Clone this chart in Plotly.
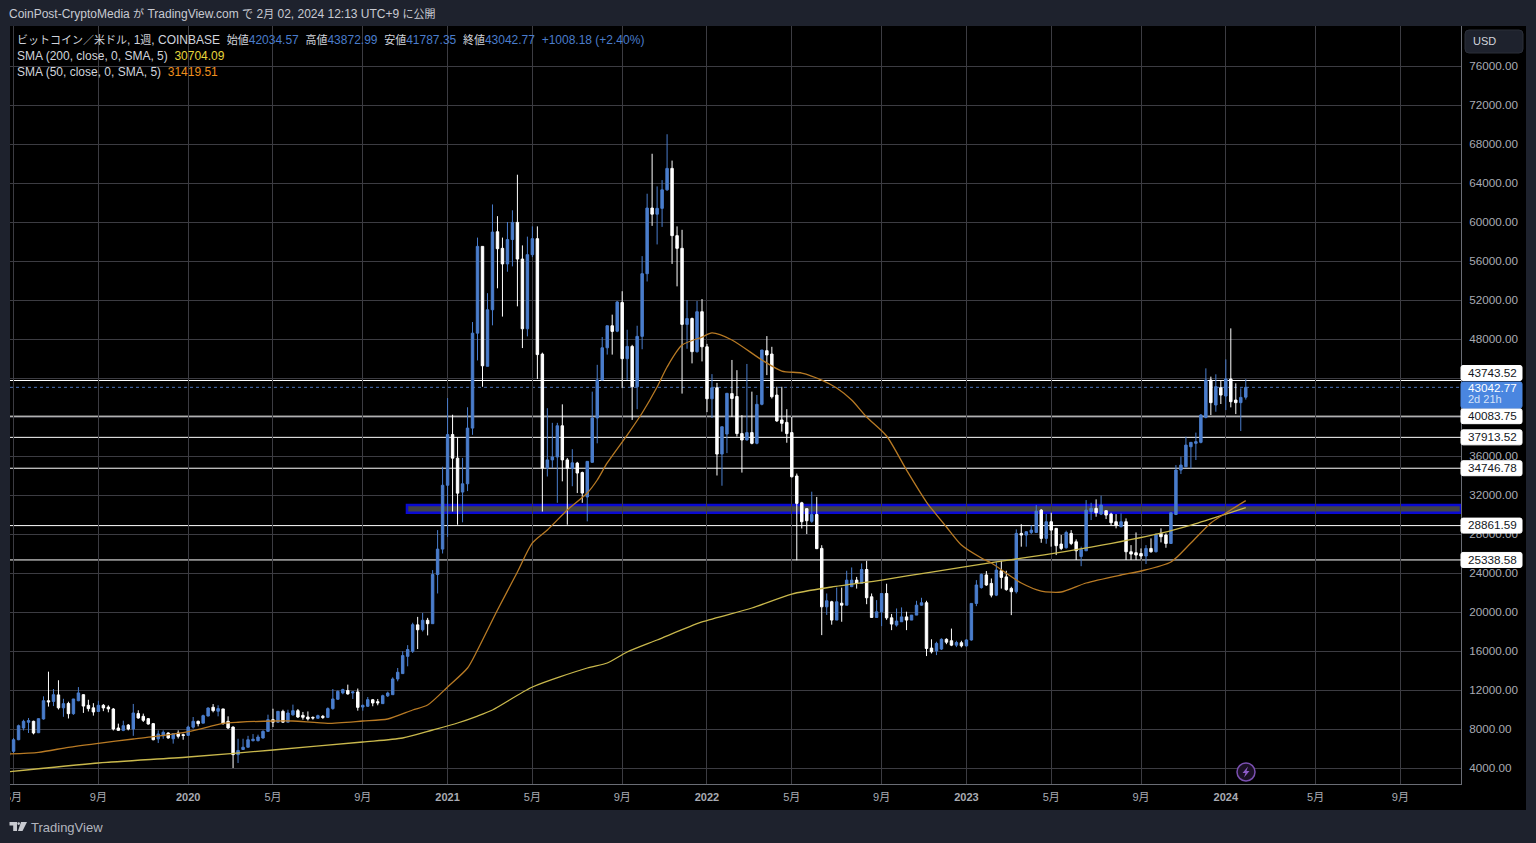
import pandas as pd
import plotly.graph_objects as go

# ---------- weekly candles, one row of ten bars per line ----------
first_week = "2019-04-29"
opens = [
 5280,5710,6900,8100,8690,8790,7620,9030,10900,10830,
 11500,10170,10620,9570,10900,11520,10430,10170,9800,10430,
 10250,10050,8100,7860,8400,8000,9580,9300,9060,8550,
 6990,7300,7590,7000,7590,7420,7350,8190,8790,8600,
 9330,10230,9820,10060,8790,8200,5370,5900,6130,6800,
 6800,7080,7760,8960,8700,9810,8700,9450,9880,9400,
 9230,9190,9100,9300,9190,10090,11050,11700,11950,11700,
 11800,10250,10330,11000,10800,10600,11400,11520,13130,13680,
 15450,15970,18680,18180,19150,18800,23850,26450,33000,38200,
 35780,32300,33150,38860,48600,57500,45200,51000,59000,57300,
 55700,58200,59960,56200,49050,56650,58290,46450,34760,35600,
 35900,39100,35600,34750,35270,34300,31800,35350,39900,43800,
 47100,49360,48800,51750,45980,47240,43100,48270,54700,61430,
 60800,61400,63300,65500,58600,57300,49500,50100,46700,50800,
 47200,41870,43000,36200,38250,42400,42100,38300,37640,38400,
 37300,41300,46800,46460,42250,39700,39450,38400,33950,31200,
 30600,29300,30000,26520,20530,21050,19170,20900,20700,22600,
 23270,22930,24360,21560,19440,20020,21900,19400,18660,19000,
 19500,19170,19680,20700,20950,16300,16000,16200,17200,17050,
 16600,16850,16530,17130,20880,22500,23800,22930,21730,24230,
 23600,22420,22080,28060,27890,28160,28160,30450,27550,29260,
 28580,26970,26590,28060,27200,25700,26280,30300,30630,30040,
 30390,30040,29260,28750,29260,26180,26080,26000,25740,26520,
 26180,28060,27890,27030,30000,34560,34900,36950,37300,37400,
 39960,43790,41230,43010,42150,43900,41740,41470,42034.57,
]
highs = [
 5800,7080,8450,8950,9130,8850,9100,11350,13880,12100,
 13000,11100,10800,11090,12300,11560,11000,10650,10900,10560,
 10430,10150,8550,8850,8510,10570,9920,9580,9130,8620,
 7860,7860,7660,7590,7860,7520,8340,9230,8860,9470,
 10220,10560,10430,10060,9300,8270,7000,7000,7300,7480,
 7420,7860,9470,10080,9810,9980,9980,10500,10050,9750,
 9800,9300,9470,9440,10220,12100,11960,12130,12550,11860,
 12150,10500,11280,11080,11080,11520,11830,13300,14260,15970,
 16600,18900,19500,19900,19400,24300,28400,34900,41940,40230,
 37900,35800,41000,49740,58400,57500,52700,61800,60600,58400,
 60000,61200,64850,57600,58500,59550,59550,46600,40900,39400,
 39400,41300,35800,36700,35400,34400,35450,42600,45350,48200,
 49360,50500,51900,52900,48950,47400,49360,56500,62900,67000,
 63650,64300,69000,66300,59550,59200,52000,50200,51900,52100,
 47500,44400,43500,39000,42430,45850,44800,40200,45440,42600,
 42250,46870,48300,47200,43100,43100,40800,40000,34200,31300,
 30650,32340,31800,26850,21900,21150,22500,22500,24230,24570,
 23600,24980,25250,21900,21220,21900,22900,19800,20360,20470,
 20030,19680,21150,21460,21150,17200,16950,17300,17300,18300,
 17050,17050,17200,20880,23270,23950,24200,23440,25150,25260,
 24230,22590,28470,29000,28300,28900,30970,30560,30050,30180,
 28600,27900,28340,28400,27450,26700,31480,31200,31550,31930,
 30450,30180,30040,30110,29600,26860,28160,26520,26860,27550,
 28060,28580,28060,30180,35070,35930,37980,37400,38400,40300,
 44990,44140,44380,43790,45910,49090,43450,42940,43872.99,
]
lows = [
 5270,5540,6850,7850,7590,7450,7580,8960,10300,10350,
 10000,9250,9080,9450,10850,9650,9800,9370,9750,9830,
 9710,7850,7830,7780,7860,7300,9050,8720,8450,6840,
 6560,7000,7000,6500,7030,6900,7280,8040,8270,8600,
 9300,9710,9300,8450,8000,4000,4510,5850,6100,6730,
 6730,7010,7690,8200,8620,8620,8700,9370,9130,8960,
 8860,8960,9060,9030,9120,9980,10980,11560,11520,11080,
 9880,9880,10260,10330,10430,10570,11280,11520,12890,13650,
 14430,15800,16200,18000,17600,18800,21900,26000,27700,30300,
 28950,29200,32400,38170,45800,43100,45200,49400,53200,50300,
 54900,55450,51350,47070,48270,56400,43900,30300,33900,34760,
 31200,33400,28950,32900,32200,31200,29300,35300,37300,43800,
 46400,46400,48700,42970,43800,39700,40800,46950,53900,59600,
 57700,59500,63200,55700,53400,42400,47000,45500,46600,45700,
 40500,39900,34000,32950,36300,40000,38000,34300,37600,37200,
 37200,41200,44300,41900,39500,38500,37360,33800,25300,28570,
 28000,29150,26450,17630,19700,18700,19170,19000,20700,22550,
 22400,22900,20800,19440,19440,18550,19200,18140,18500,19000,
 18140,19170,19680,20650,15480,15750,15580,16100,16700,16500,
 16400,16370,16450,17060,20600,22400,22680,21500,21630,22400,
 22180,19680,21900,26700,26700,28000,28100,27100,27000,26700,
 25840,26350,26500,26860,25330,24700,26250,29430,29770,29940,
 29530,28920,28580,28680,25330,25330,25330,25400,24920,26080,
 26110,27140,26590,27000,29940,34150,34830,34730,35590,37300,
 39860,40200,40540,41330,40710,40990,40300,38560,41787.35,
]
closes = [
 5710,6900,8340,8790,8860,7590,9060,10900,10780,11520,
 10170,10600,9570,11080,11700,10350,10090,9750,10430,10160,
 10060,8000,7860,8340,8000,9640,9130,8890,8510,6900,
 7490,7660,7080,7520,7250,7340,8200,8790,8550,9370,
 10150,9880,10090,8550,8110,5370,5800,6130,6900,6950,
 7180,7760,8960,8700,9810,8700,9640,9880,9230,9200,
 9030,9130,9370,9190,10090,11080,11860,12040,11600,11800,
 10220,10430,11010,10670,10680,11420,11690,13130,13820,15530,
 16150,18700,18180,19150,18800,23850,26450,33000,38200,35780,
 32190,33150,38860,48600,57500,45250,51000,58970,57260,55700,
 58200,59960,56200,49050,56650,58290,46400,34760,35600,35900,
 39100,35600,34750,35300,34250,32200,35450,39900,43800,47100,
 49360,48780,51800,45980,47240,43100,48270,54700,61430,60800,
 61400,63300,65500,58600,57300,49500,50100,46700,50800,47200,
 41870,43000,36200,39000,42430,41900,38300,37640,38400,37300,
 41300,46870,46360,42080,39600,39350,38300,33870,31140,29260,
 29360,30000,26500,20530,21150,19170,21050,20700,23270,23270,
 22930,24360,21460,19440,20020,21900,19400,18760,19070,19500,
 19170,19680,20700,20950,16260,15920,16780,17200,16900,16600,
 16870,16530,17130,20880,22770,23850,22770,21730,24300,23550,
 22300,22080,28060,27890,28230,28400,30350,27550,29260,28400,
 26800,26520,28160,27030,26280,26420,30450,30630,30180,30970,
 29940,29160,28920,29260,26180,25940,25840,25740,26520,26180,
 27960,27720,27030,30180,34560,35070,37120,37400,37470,40200,
 43790,41470,43110,42250,43900,41570,41470,42010,43042.77,
]
assert len(opens) == len(highs) == len(lows) == len(closes) == 249

# ---------- moving averages read at sampled weeks ----------
sma50_weeks = ["2019-04-29","2019-06-10","2019-07-22","2019-09-02","2019-10-21","2019-11-18","2020-01-06",
 "2020-02-10","2020-02-24","2020-03-16","2020-05-04","2020-06-01","2020-07-20","2020-09-07","2020-10-12",
 "2020-11-16","2020-12-07","2021-01-04","2021-02-01","2021-02-15","2021-03-15","2021-04-12","2021-05-03",
 "2021-05-24","2021-06-21","2021-07-19","2021-08-02","2021-08-16","2021-09-13","2021-10-04","2021-10-25","2021-11-08",
 "2021-11-29","2021-12-27","2022-01-10","2022-02-07","2022-03-21","2022-04-18","2022-05-16","2022-06-13",
 "2022-07-04","2022-07-25","2022-08-15","2022-09-12","2022-10-10","2022-11-07","2022-12-05","2022-12-26",
 "2023-01-23","2023-02-06","2023-03-20","2023-04-17","2023-05-15","2023-06-19","2023-08-07","2023-09-04",
 "2023-10-16","2023-11-13","2023-12-11","2024-01-01","2024-01-29"]
sma50_values = [5436,5610,6120,6530,6975,7210,7725,8340,8585,8690,8820,8820,8585,8820,9025,9950,10460,12307,14256,
 16100,20200,24100,27080,28410,30460,32200,33540,35285,38150,40410,43075,45130,47380,48200,48620,47900,45845,44715,44510,
 43790,42975,41740,39995,38050,34560,31280,28720,26870,25540,25025,22975,22150,22050,22975,23795,24205,25130,27075,
 29130,30150,31419.51]
sma200_weeks = ["2019-04-29","2019-09-02","2020-01-06","2020-05-04","2020-09-07","2020-11-02","2020-12-14",
 "2021-01-18","2021-02-15","2021-03-08","2021-05-03","2021-07-19","2021-08-16","2021-09-13","2021-10-25","2021-12-27",
 "2022-03-07","2022-05-02","2022-06-27","2022-09-05","2022-11-14","2023-02-13","2023-03-13","2023-06-26",
 "2023-10-02","2023-11-13","2024-01-01","2024-01-29"]
sma200_values = [3620,4513,5130,5846,6667,7077,7897,8615,9330,9950,12307,14256,14770,15900,17130,18975,20410,21845,22565,
 23280,24100,25130,25435,26665,28100,28920,30050,30704.09]

# ---------- drawn levels, axes and text ----------
level_values = [43743.52, 40083.75, 37913.52, 34746.78, 28861.59, 25338.58]
last_price = 43042.77
band_low, band_high = 30185, 30970
price_ticks = list(range(4000, 80000, 4000))
hidden_price_ticks = [40000, 44000]
date_ticks = ["2019-05-06","2019-09-02","2020-01-06","2020-05-04","2020-09-07","2021-01-04","2021-05-03","2021-09-06",
 "2022-01-03","2022-05-02","2022-09-05","2023-01-02","2023-05-01","2023-09-04","2024-01-01","2024-05-06","2024-09-02"]
date_labels = ["5月","9月","<b>2020</b>","5月","9月","<b>2021</b>","5月","9月","<b>2022</b>","5月","9月","<b>2023</b>",
 "5月","9月","<b>2024</b>","5月","9月"]

UP, DOWN = "#4a7dcc", "#ffffff"
OUTER, GRID, AXTXT = "#1e222d", "#3c3c42", "#a8abb3"
FONT = "Liberation Sans, Noto Sans CJK JP, sans-serif"
L, R, T, B = 10, 1461, 26, 784
YMIN, YMAX = 2359, 80103

def px(x): return (x - L) / (R - L)
def py(y): return 1 - (y - T) / (B - T)
def vy(v): return (v - YMIN) / (YMAX - YMIN)
def cj(s): return f"<span style='font-size:11px'>{s}</span>"

def rrect(x0, y0, x1, y1, r, fill, line=None):
    X0, X1, Xa, Xb = px(x0), px(x1), px(x0 + r), px(x1 - r)
    Y0, Y1, Ya, Yb = py(y0), py(y1), py(y0 + r), py(y1 - r)
    p = (f"M{Xa},{Y0} L{Xb},{Y0} Q{X1},{Y0} {X1},{Ya} L{X1},{Yb} Q{X1},{Y1} {Xb},{Y1} "
         f"L{Xa},{Y1} Q{X0},{Y1} {X0},{Yb} L{X0},{Ya} Q{X0},{Y0} {Xa},{Y0} Z")
    return dict(type="path", xref="paper", yref="paper", path=p, fillcolor=fill,
                line=dict(color=line or fill, width=1), layer="above")

def poly(pts, fill):
    p = "M" + " L".join(f"{px(a)},{py(b)}" for a, b in pts) + " Z"
    return dict(type="path", xref="paper", yref="paper", path=p, fillcolor=fill, line=dict(width=0), layer="above")

def note(x, y, text, size=12, color="#d1d4dc", anchor="left"):
    return dict(xref="paper", yref="paper", x=px(x), y=py(y), text=text, showarrow=False, xanchor=anchor,
                yanchor="middle", align="left", font=dict(family=FONT, size=size, color=color),
                borderpad=0, borderwidth=0)

weeks = pd.date_range(first_week, periods=len(opens), freq="7D")

fig = go.Figure()
fig.add_trace(go.Candlestick(x=weeks, open=opens, high=highs, low=lows, close=closes, whiskerwidth=0,
    increasing=dict(line=dict(color=UP, width=1), fillcolor=UP),
    decreasing=dict(line=dict(color=DOWN, width=1), fillcolor=DOWN), showlegend=False, hoverinfo="skip"))
fig.add_trace(go.Scatter(x=sma200_weeks, y=sma200_values, mode="lines", line=dict(color="#c9b84c", width=1.3, shape="spline", smoothing=0.7),
                         showlegend=False, hoverinfo="skip"))
fig.add_trace(go.Scatter(x=sma50_weeks, y=sma50_values, mode="lines", line=dict(color="#b87a24", width=1.3, shape="spline", smoothing=0.7),
                         showlegend=False, hoverinfo="skip"))

shapes = [
    dict(type="rect", xref="paper", yref="paper", x0=px(R), x1=px(1526), y0=py(810), y1=py(T), fillcolor="#000", line=dict(width=0), layer="below"),
    dict(type="rect", xref="paper", yref="paper", x0=px(L), x1=px(R), y0=py(810), y1=py(B), fillcolor="#000", line=dict(width=0), layer="below"),
    dict(type="rect", xref="x", yref="y", x0="2020-11-08", x1="2024-11-26", y0=band_low, y1=band_high,
         fillcolor="#444444", line=dict(color="#0a0ad2", width=2.5), layer="below"),
    dict(type="line", xref="paper", yref="y", x0=0, x1=1, y0=last_price, y1=last_price,
         line=dict(color="#4a6fb5", width=1, dash="dot"), layer="below"),
    dict(type="rect", xref="paper", yref="paper", x0=px(0), x1=px(L), y0=py(810), y1=py(B), fillcolor=OUTER, line=dict(width=0), layer="above"),
    rrect(1465, 30, 1523, 53, 4, "#1e222d", "#2a2e39"),
]
annotations = []
for v in level_values:
    shapes.append(dict(type="line", xref="paper", yref="y", x0=0, x1=1, y0=v, y1=v,
                       line=dict(color="#ffffff", width=1), layer="below"))
    yc = T + (1 - vy(v)) * (B - T)
    if v == level_values[0]:
        yc -= 7.5
    shapes.append(rrect(R, yc - 7.5, 1522, yc + 7.5, 2, "#ffffff"))
    annotations.append(note(1468, yc - 0.7, f"{v:.2f}", 11.7, "#131722"))

shapes.append(rrect(R, 382, 1522, 408, 2, "#4a86e0"))
annotations += [note(1468, 387, f"{last_price:.2f}", 11.7, "#ffffff"), note(1468, 399, "2d 21h", 11, "#d5e3fa")]

shapes.append(dict(type="circle", xref="paper", yref="paper", x0=px(1237), x1=px(1255), y0=py(781), y1=py(763),
                   fillcolor="#1a1024", line=dict(color="#7a4fb0", width=1.5), layer="above"))
shapes.append(poly([(1248, 766.5), (1242.5, 773), (1245.5, 773), (1244, 777.5), (1249.5, 771), (1246.5, 771)], "#8e5cc8"))
shapes.append(poly([(9.5, 822), (17, 822), (17, 831), (13.2, 831), (13.2, 825.5), (9.5, 825.5)], "#c8cad0"))
shapes.append(poly([(21, 822), (27, 822), (22.5, 831), (18, 831)], "#c8cad0"))
shapes.append(dict(type="circle", xref="paper", yref="paper", x0=px(17.3), x1=px(20), y0=py(825), y1=py(822.2),
                   fillcolor="#c8cad0", line=dict(width=0), layer="above"))

B1, Y1, O1 = "#4a7dcc", "#e6d63c", "#ee8f1e"
NB = "&#160;&#160;"
annotations += [
    note(9, 14, f"CoinPost-CryptoMedia {cj('が')} TradingView.com {cj('で')} 2{cj('月')} 02, 2024 12:13 UTC+9 {cj('に公開')}", 12, "#c8cad2"),
    note(17, 40, f"{cj('ビットコイン／米ドル')}, 1{cj('週')}, COINBASE{NB}{cj('始値')}<span style='color:{B1}'>42034.57</span>{NB}"
                 f"{cj('高値')}<span style='color:{B1}'>43872.99</span>{NB}{cj('安値')}<span style='color:{B1}'>41787.35</span>{NB}"
                 f"{cj('終値')}<span style='color:{B1}'>43042.77</span>{NB}<span style='color:{B1}'>+1008.18 (+2.40%)</span>", 12),
    note(17, 56, f"SMA (200, close, 0, SMA, 5){NB}<span style='color:{Y1}'>30704.09</span>", 12),
    note(17, 72, f"SMA (50, close, 0, SMA, 5){NB}<span style='color:{O1}'>31419.51</span>", 12),
    note(1473, 41.5, "USD", 11, "#d1d4dc"),
    note(31, 827, "TradingView", 13, "#b2b5be"),
]

fig.update_layout(
    width=1536, height=843, autosize=False,
    margin=dict(l=L, r=1536 - R, t=T, b=843 - B, pad=0, autoexpand=False),
    paper_bgcolor=OUTER, plot_bgcolor="#000000",
    boxgap=0.3, hovermode=False, showlegend=False,
    font=dict(family=FONT, size=11, color=AXTXT),
    shapes=shapes, annotations=annotations,
    xaxis=dict(type="date", range=["2019-05-01", "2024-11-26"], rangeslider=dict(visible=False),
               tickmode="array", tickvals=date_ticks, ticktext=date_labels, tickangle=0,
               showgrid=True, gridcolor=GRID, gridwidth=1, zeroline=False, showline=True, linecolor="#6a6d75", linewidth=1,
               ticks="", ticklabelstandoff=3, tickfont=dict(size=11, color=AXTXT), mirror=False),
    yaxis=dict(range=[YMIN, YMAX], side="right", tickmode="array", tickvals=price_ticks,
               ticktext=["" if t in hidden_price_ticks else f"{t:.2f}" for t in price_ticks],
               showgrid=True, gridcolor=GRID, gridwidth=1, zeroline=False, showline=True, linecolor="#6a6d75", linewidth=1,
               ticks="outside", ticklen=5, tickcolor="#000000", tickfont=dict(size=11.7, color=AXTXT)),
)

fig.write_html("out.html", config=dict(displayModeBar=False),
               post_script="document.body.style.margin='0';document.body.style.background='#1e222d';document.body.style.overflow='hidden';")
